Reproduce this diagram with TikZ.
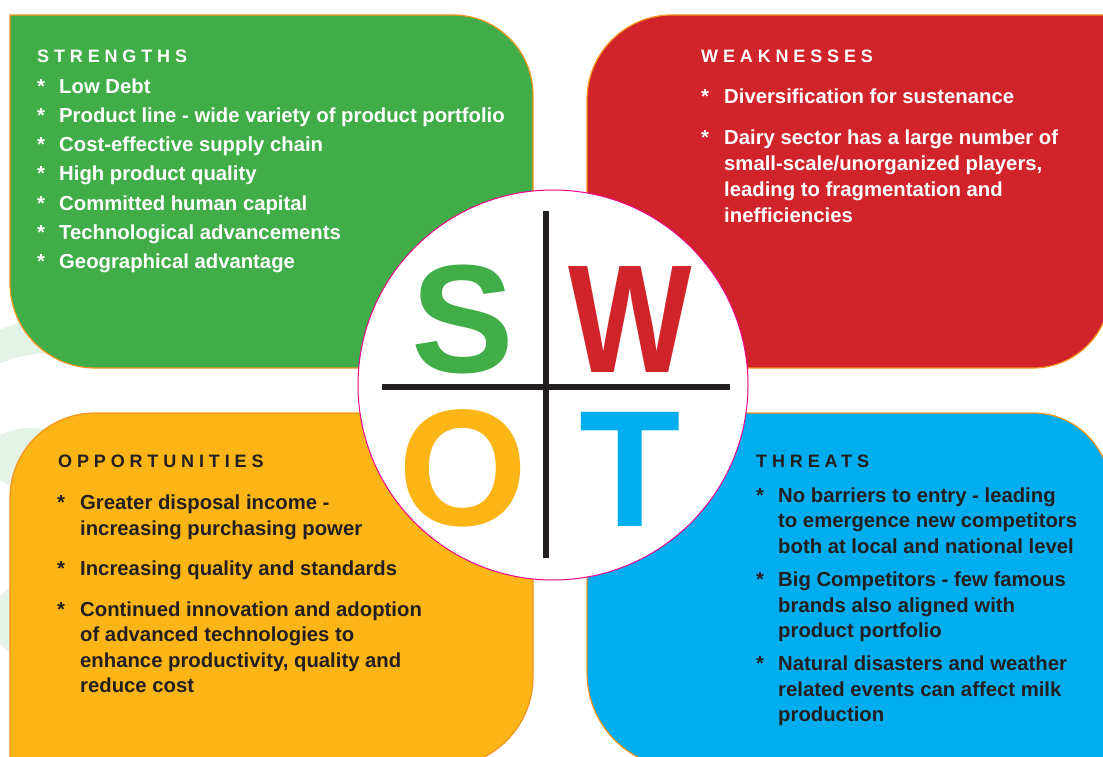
\documentclass[tikz,border=0pt]{standalone}
\usepackage{fontspec}
\setmainfont{Liberation Sans}
\definecolor{sgreen}{HTML}{41AD49}
\definecolor{sred}{HTML}{D1232A}
\definecolor{syellow}{HTML}{FBB517}
\definecolor{sblue}{HTML}{00AEEF}
\definecolor{sedge}{HTML}{F7941D}
\definecolor{ink}{HTML}{231F20}
\definecolor{mint}{HTML}{E4F3E8}
\definecolor{ring}{HTML}{EC008C}
\newcommand\headfont{\fontsize{18}{20}\selectfont\bfseries\addfontfeature{LetterSpace=27}}
\newcommand\bodyfont{\fontsize{20.3}{25}\selectfont\bfseries}
\tikzset{
  box/.style={draw=sedge, line width=1.2pt},
  head/.style={anchor=base west, inner sep=0pt, font=\headfont},
  body/.style={anchor=base west, inner sep=0pt, font=\bodyfont},
  bigletter/.style={anchor=base, inner sep=0pt},
  cross/.style={draw=ink, line width=6pt},
}
\begin{document}
\begin{tikzpicture}[x=1pt,y=-1pt]
\useasboundingbox (0,0) rectangle (1103,757);
\clip (0,0) rectangle (1103,757);
\fill[white] (0,0) rectangle (1103,757);
% faint background shapes
\fill[mint] (-5,332) .. controls (10,325) and (25,320) .. (60,318) -- (60,352) .. controls (30,353) and (10,358) .. (-5,366) -- cycle;
\fill[mint] (30,458) ellipse [x radius=45, y radius=30];
\fill[mint] (30,620) circle [radius=38];
% quadrants
\path[box, fill=sgreen] (10,15) -- (453,15) arc (270:360:80) -- (533,368) -- (95,368) arc (90:180:85) -- cycle;
\path[box, fill=sred] (672,15) -- (1110,15) -- (1110,291) arc (0:90:77) -- (587,368) -- (587,100) arc (180:270:85) -- cycle;
\path[box, fill=syellow] (95,413) -- (533,413) -- (533,677) arc (0:90:90) -- (10,767) -- (10,498) arc (180:270:85) -- cycle;
\path[box, fill=sblue] (587,413) -- (1033,413) arc (270:360:77) -- (1110,768) -- (682,768) arc (90:180:95) -- cycle;
% central circle
\node[circle, minimum size=390pt, inner sep=0pt, fill=white, draw=ring, line width=1pt] (circ) at (553,385) {};
\coordinate (vtop) at (546,211);
\coordinate (vbot) at (546,558);
\coordinate (hleft) at (382,387);
\coordinate (hright) at (730,387);
\draw[cross] (vtop) -- (vbot);
\draw[cross] (hleft) -- (hright);
\node[bigletter, text=sgreen, font=\fontsize{154}{154}\selectfont\bfseries] (S) at (463,372) {S};
\node[bigletter, text=sred, font=\fontsize{154}{154}\selectfont\bfseries] (W) at (630,372) {\scalebox{0.85}[1]{W}};
\node[bigletter, text=syellow, font=\fontsize{166}{166}\selectfont\bfseries] (O) at (463,525) {O};
\node[bigletter, text=sblue, font=\fontsize{166}{166}\selectfont\bfseries] (T) at (630,526) {T};
% STRENGTHS
\begin{scope}[every node/.append style={text=white}]
\node[head] (sh) at (37,62.7) {STRENGTHS};
\node[body] (sa1) at (37,93.3) {*};  \node[body] (s1) at (59,93.3) {Low Debt};
\node[body] (sa2) at (37,122.5) {*}; \node[body] (s2) at (59,122.5) {Product line - wide variety of product portfolio};
\node[body] (sa3) at (37,151.7) {*}; \node[body] (s3) at (59,151.7) {Cost-effective supply chain};
\node[body] (sa4) at (37,180.9) {*}; \node[body] (s4) at (59,180.9) {High product quality};
\node[body] (sa5) at (37,210.1) {*}; \node[body] (s5) at (59,210.1) {Committed human capital};
\node[body] (sa6) at (37,239.3) {*}; \node[body] (s6) at (59,239.3) {Technological advancements};
\node[body] (sa7) at (37,268.5) {*}; \node[body] (s7) at (59,268.5) {Geographical advantage};
% WEAKNESSES
\node[head] (wh) at (701,62.7) {WEAKNESSES};
\node[body] (wa1) at (701,104) {*}; \node[body] (w1) at (724,104) {Diversification for sustenance};
\node[body] (wa2) at (701,145) {*}; \node[body] (w2a) at (724,145) {Dairy sector has a large number of};
\node[body] (w2b) at (724,170.7) {small-scale/unorganized players,};
\node[body] (w2c) at (724,196.3) {leading to fragmentation and};
\node[body] (w2d) at (724,222) {inefficiencies};
\end{scope}
\begin{scope}[every node/.append style={text=ink}]
% OPPORTUNITIES
\node[head] (oh) at (58,467.3) {OPPORTUNITIES};
\node[body] (oa1) at (57,509) {*}; \node[body] (o1a) at (80,509) {Greater disposal income -};
\node[body] (o1b) at (80,535) {increasing purchasing power};
\node[body] (oa2) at (57,575) {*}; \node[body] (o2) at (80,575) {Increasing quality and standards};
\node[body] (oa3) at (57,616) {*}; \node[body] (o3a) at (80,616) {Continued innovation and adoption};
\node[body] (o3b) at (80,641.7) {of advanced technologies to};
\node[body] (o3c) at (80,667) {enhance productivity, quality and};
\node[body] (o3d) at (80,692.5) {reduce cost};
% THREATS
\node[head] (th) at (756,467.3) {THREATS};
\node[body] (ta1) at (756,502) {*}; \node[body] (t1a) at (778,502) {No barriers to entry - leading};
\node[body] (t1b) at (778,527.5) {to emergence new competitors};
\node[body] (t1c) at (778,553) {both at local and national level};
\node[body] (ta2) at (756,586.5) {*}; \node[body] (t2a) at (778,586.5) {Big Competitors - few famous};
\node[body] (t2b) at (778,612) {brands also aligned with};
\node[body] (t2c) at (778,637.5) {product portfolio};
\node[body] (ta3) at (756,670.5) {*}; \node[body] (t3a) at (778,670.5) {Natural disasters and weather};
\node[body] (t3b) at (778,696) {related events can affect milk};
\node[body] (t3c) at (778,721.5) {production};
\end{scope}
\end{tikzpicture}
\end{document}
